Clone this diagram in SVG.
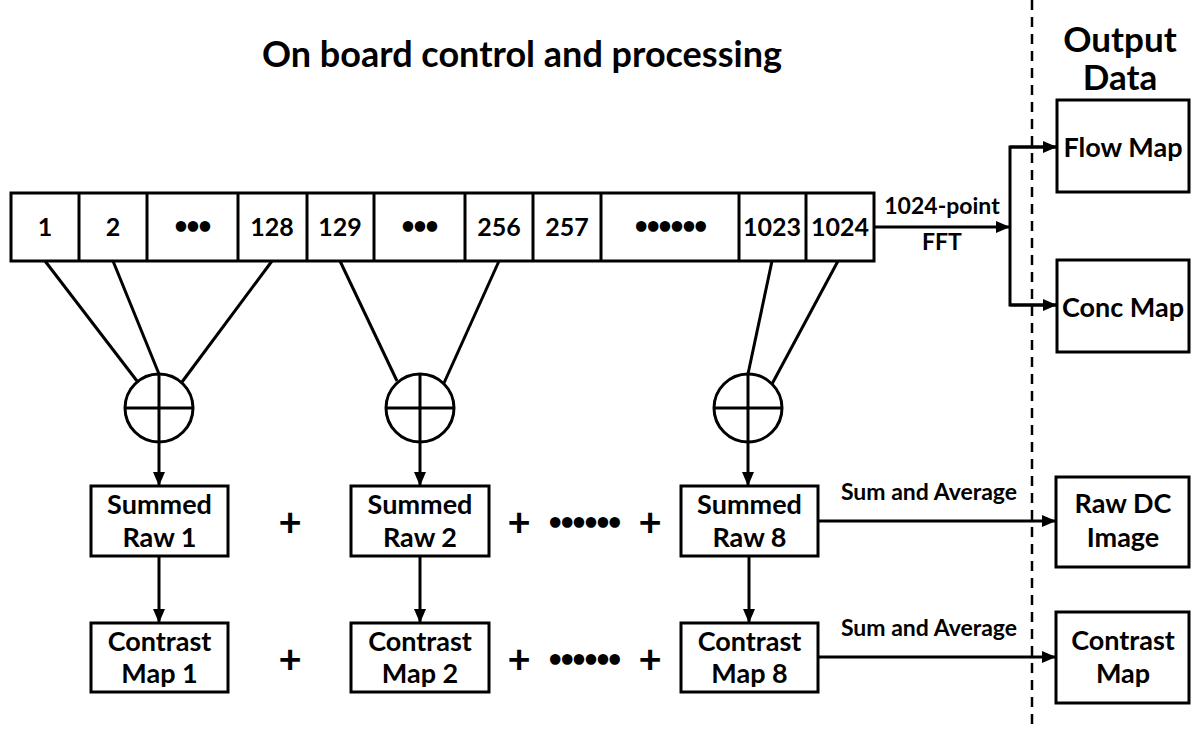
<svg xmlns="http://www.w3.org/2000/svg" width="1191" height="731" viewBox="0 0 1191 731">
<defs>
<style>
text{font-family:Lato,"Liberation Sans",sans-serif;font-weight:bold;fill:#000;text-anchor:middle}
.t{font-size:36px}
.h{font-size:35px}
.c{font-size:25px}
.b{font-size:27px}
.s{font-size:23px}
.p{font-size:40px}
.d{font-size:24px;letter-spacing:-2px}
.box{fill:#fff;stroke:#000;stroke-width:3}
.ln{fill:none;stroke:#000;stroke-width:3}
.ar{fill:none;stroke:#000;stroke-width:3;marker-end:url(#ah)}
</style>
<marker id="ah" viewBox="0 0 14 12" refX="14" refY="6" markerWidth="14" markerHeight="12" markerUnits="userSpaceOnUse" orient="auto">
<path d="M0,0 L14,6 L0,12 z" fill="#000"/>
</marker>
</defs>
<rect width="1191" height="731" fill="#fff"/>

<text class="t" x="522" y="67">On board control and processing</text>
<text class="h" x="1120" y="52">Output</text>
<text class="h" x="1120" y="90">Data</text>

<line x1="1032" y1="0" x2="1032" y2="731" stroke="#000" stroke-width="2.5" stroke-dasharray="10 7"/>

<g id="array">
<rect class="box" x="11" y="193" width="863" height="68"/>
<g class="ln">
<line x1="79" y1="193" x2="79" y2="261"/>
<line x1="147" y1="193" x2="147" y2="261"/>
<line x1="238" y1="193" x2="238" y2="261"/>
<line x1="307" y1="193" x2="307" y2="261"/>
<line x1="374" y1="193" x2="374" y2="261"/>
<line x1="465" y1="193" x2="465" y2="261"/>
<line x1="533" y1="193" x2="533" y2="261"/>
<line x1="601" y1="193" x2="601" y2="261"/>
<line x1="739" y1="193" x2="739" y2="261"/>
<line x1="806" y1="193" x2="806" y2="261"/>
</g>
<text class="c" x="45" y="236">1</text>
<text class="c" x="113" y="236">2</text>
<text class="d" x="192" y="234">•••</text>
<text class="c" x="272" y="236">128</text>
<text class="c" x="340" y="236">129</text>
<text class="d" x="419" y="234">•••</text>
<text class="c" x="499" y="236">256</text>
<text class="c" x="567" y="236">257</text>
<text class="d" x="670" y="234">••••••</text>
<text class="c" x="772" y="236">1023</text>
<text class="c" x="840" y="236">1024</text>
</g>

<g id="sum1">
<circle class="ln" cx="159" cy="408" r="34"/>
<line class="ln" x1="125" y1="408" x2="193" y2="408"/>
</g>
<g id="sum2">
<circle class="ln" cx="420" cy="408" r="34"/>
<line class="ln" x1="386" y1="408" x2="454" y2="408"/>
</g>
<g id="sum3">
<circle class="ln" cx="748" cy="408" r="34"/>
<line class="ln" x1="714" y1="408" x2="782" y2="408"/>
</g>

<g id="summed1"><rect class="box" x="91" y="486" width="137" height="70"/><text class="b" x="159.5" y="514">Summed</text><text class="b" x="159.5" y="547">Raw 1</text></g>
<g id="summed2"><rect class="box" x="351" y="486" width="138" height="70"/><text class="b" x="420" y="514">Summed</text><text class="b" x="420" y="547">Raw 2</text></g>
<g id="summed8"><rect class="box" x="681" y="486" width="137" height="70"/><text class="b" x="749.5" y="514">Summed</text><text class="b" x="749.5" y="547">Raw 8</text></g>
<g id="contrast1"><rect class="box" x="91" y="623" width="137" height="69"/><text class="b" x="159.5" y="651">Contrast</text><text class="b" x="159.5" y="683">Map 1</text></g>
<g id="contrast2"><rect class="box" x="351" y="623" width="138" height="69"/><text class="b" x="420" y="651">Contrast</text><text class="b" x="420" y="683">Map 2</text></g>
<g id="contrast8"><rect class="box" x="681" y="623" width="137" height="69"/><text class="b" x="749.5" y="651">Contrast</text><text class="b" x="749.5" y="683">Map 8</text></g>

<g id="flowmap"><rect class="box" x="1057" y="100" width="132" height="92"/><text class="b" x="1123" y="157">Flow Map</text></g>
<g id="concmap"><rect class="box" x="1057" y="260" width="132" height="92"/><text class="b" x="1123" y="317">Conc Map</text></g>
<g id="rawdc"><rect class="box" x="1056" y="477" width="133" height="90"/><text class="b" x="1123" y="513">Raw DC</text><text class="b" x="1123" y="547">Image</text></g>
<g id="contrastmap"><rect class="box" x="1056" y="612" width="133" height="91"/><text class="b" x="1123" y="650">Contrast</text><text class="b" x="1123" y="683">Map</text></g>

<g id="ops">
<text class="p" x="290" y="536">+</text>
<text class="p" x="519" y="536">+</text>
<text class="d" x="584" y="530">••••••</text>
<text class="p" x="650" y="536">+</text>
<text class="p" x="290" y="673">+</text>
<text class="p" x="519" y="673">+</text>
<text class="d" x="584" y="667">••••••</text>
<text class="p" x="650" y="673">+</text>
</g>

<g id="connectors">
<line class="ln" x1="45" y1="261" x2="137" y2="381"/>
<line class="ln" x1="113" y1="261" x2="159" y2="374"/>
<line class="ln" x1="272" y1="261" x2="182" y2="382"/>
<line class="ln" x1="340" y1="261" x2="397" y2="381"/>
<line class="ln" x1="499" y1="261" x2="444" y2="383"/>
<line class="ln" x1="772" y1="261" x2="748" y2="374"/>
<line class="ln" x1="838" y1="261" x2="772" y2="384"/>
<line class="ar" x1="159" y1="374" x2="159" y2="486"/>
<line class="ar" x1="420" y1="374" x2="420" y2="486"/>
<line class="ar" x1="748" y1="374" x2="748" y2="486"/>
<line class="ar" x1="159" y1="556" x2="159" y2="623"/>
<line class="ar" x1="420" y1="556" x2="420" y2="623"/>
<line class="ar" x1="749" y1="556" x2="749" y2="623"/>
<line class="ar" x1="874" y1="227" x2="1010" y2="227"/>
<polyline class="ln" points="1056,147 1010,147 1010,305 1056,305"/>
<line class="ar" x1="1010" y1="147" x2="1057" y2="147"/>
<line class="ar" x1="1010" y1="305" x2="1057" y2="305"/>
<line class="ar" x1="818" y1="521" x2="1056" y2="521"/>
<line class="ar" x1="818" y1="657" x2="1056" y2="657"/>
<text class="s" x="942" y="214">1024-point</text>
<text class="s" x="942" y="250">FFT</text>
<text class="s" x="929" y="500">Sum and Average</text>
<text class="s" x="929" y="636">Sum and Average</text>
</g>
</svg>
